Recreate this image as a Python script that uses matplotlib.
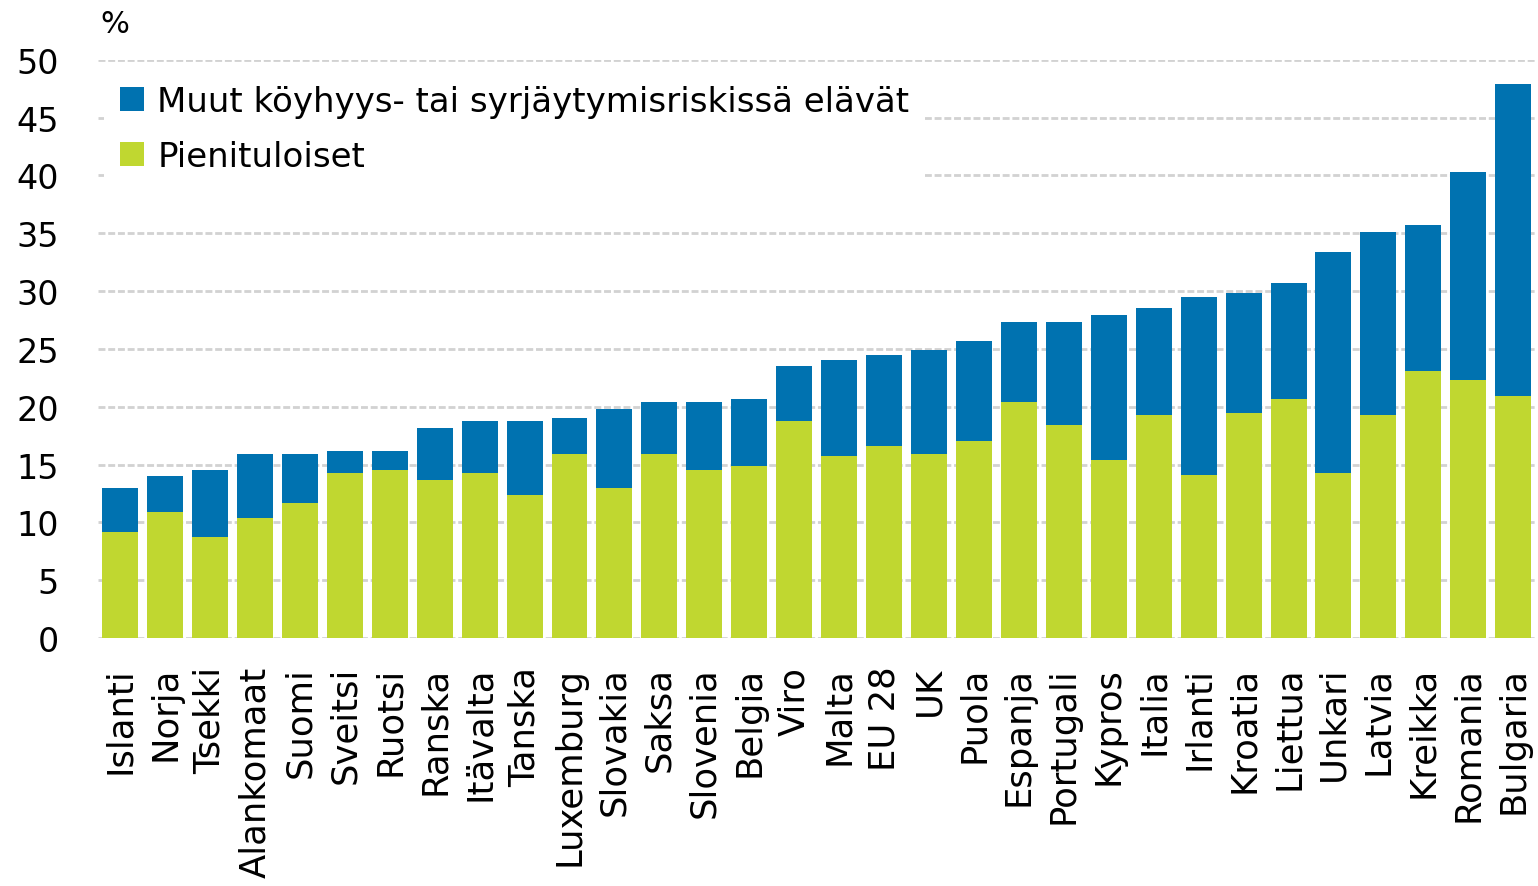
import matplotlib
matplotlib.use("Agg")
import matplotlib.pyplot as plt
import numpy as np

# maat, pienituloiset (vihreä) ja muut riskissä elävät (sininen), %
maat = ["Islanti", "Norja", "Tsekki", "Alankomaat", "Suomi", "Sveitsi", "Ruotsi",
        "Ranska", "Itävalta", "Tanska", "Luxemburg", "Slovakia", "Saksa", "Slovenia",
        "Belgia", "Viro", "Malta", "EU 28", "UK", "Puola", "Espanja", "Portugali",
        "Kypros", "Italia", "Irlanti", "Kroatia", "Liettua", "Unkari", "Latvia",
        "Kreikka", "Romania", "Bulgaria"]
pienituloiset = [9.2, 10.9, 8.7, 10.4, 11.7, 14.3, 14.5, 13.7, 14.3, 12.4, 15.9, 13.0,
                 15.9, 14.5, 14.9, 18.8, 15.7, 16.6, 15.9, 17.0, 20.4, 18.4, 15.4, 19.3,
                 14.1, 19.5, 20.7, 14.3, 19.3, 23.1, 22.3, 20.9]
yhteensa = [12.95, 14.0, 14.5, 15.9, 15.9, 16.2, 16.2, 18.2, 18.8, 18.8, 19.0, 19.8,
            20.4, 20.4, 20.7, 23.5, 24.0, 24.5, 24.9, 25.7, 27.3, 27.3, 27.9, 28.5,
            29.5, 29.8, 30.7, 33.4, 35.1, 35.7, 40.3, 47.9]
muut = [t - p for t, p in zip(yhteensa, pienituloiset)]

vihrea = "#C0D730"
sininen = "#0072B0"

fig = plt.figure(figsize=(15.38, 8.87), dpi=100)
ax = fig.add_axes([0.0635, 0.2795, 0.935, 0.652])

x = np.arange(len(maat))
ax.bar(x, pienituloiset, width=0.8, color=vihrea, label="Pienituloiset", zorder=3)
ax.bar(x, muut, width=0.8, bottom=pienituloiset, color=sininen,
       label="Muut köyhyys- tai syrjäytymisriskissä elävät", zorder=3)

ax.set_ylim(0, 50)
ax.set_xlim(-0.5, len(maat) - 0.5)
ax.set_yticks(range(0, 51, 5))
ax.yaxis.grid(True, color="#D2D2D2", linestyle=(0, (2.5, 1)), linewidth=2, zorder=0)
ax.set_axisbelow(True)
for s in ax.spines.values():
    s.set_visible(False)
ax.tick_params(axis="both", length=0)
ax.tick_params(axis="y", labelsize=24, pad=28)
ax.set_xticks(x)
ax.set_xticklabels(maat, rotation=90, fontsize=25.5, va="top")
ax.tick_params(axis="x", pad=20)

h, l = ax.get_legend_handles_labels()
leg = ax.legend(h[::-1], l[::-1], loc="upper left", bbox_to_anchor=(0.0, 0.995),
                fontsize=24.5, frameon=True, framealpha=1, edgecolor="white",
                fancybox=False, handlelength=0.7, handleheight=0.7,
                handletextpad=0.4, labelspacing=0.65, borderpad=0.45, borderaxespad=0.2)
leg.get_frame().set_linewidth(0)

fig.text(0.065, 0.972, "%", fontsize=22, va="center", ha="left")

fig.savefig("out.png", dpi=100, facecolor="white")
